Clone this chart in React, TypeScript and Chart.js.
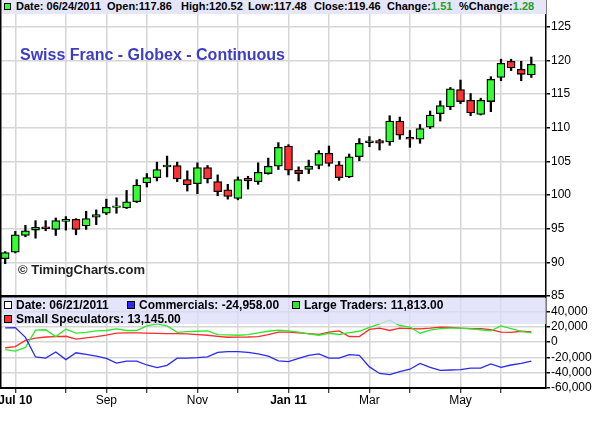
import React, { useEffect, useRef } from 'react';
import { Chart, registerables } from 'chart.js';

Chart.register(...registerables);

// Weekly bars (week ending Friday)
const weeks = [
  '2010-06-25', '2010-07-02', '2010-07-09', '2010-07-16', '2010-07-23', '2010-07-30',
  '2010-08-06', '2010-08-13', '2010-08-20', '2010-08-27',
  '2010-09-03', '2010-09-10', '2010-09-17', '2010-09-24',
  '2010-10-01', '2010-10-08', '2010-10-15', '2010-10-22', '2010-10-29',
  '2010-11-05', '2010-11-12', '2010-11-19', '2010-11-26',
  '2010-12-03', '2010-12-10', '2010-12-17', '2010-12-24', '2010-12-31',
  '2011-01-07', '2011-01-14', '2011-01-21', '2011-01-28',
  '2011-02-04', '2011-02-11', '2011-02-18', '2011-02-25',
  '2011-03-04', '2011-03-11', '2011-03-18', '2011-03-25',
  '2011-04-01', '2011-04-08', '2011-04-15', '2011-04-22', '2011-04-29',
  '2011-05-06', '2011-05-13', '2011-05-20', '2011-05-27',
  '2011-06-03', '2011-06-10', '2011-06-17', '2011-06-24',
];

const opens = [
  90.55, 91.5, 94.0, 94.8, 95.3, 94.9, 96.1, 96.4, 95.4, 96.7,
  97.3, 98.15, 98.1, 99.0, 101.8, 102.6, 104.2, 104.4, 102.3, 101.7,
  104.1, 102.0, 100.8, 99.5, 102.5, 102.0, 103.2, 104.3, 107.3, 103.7,
  103.8, 104.4, 106.2, 104.5, 102.7, 105.7, 107.8, 108.1, 107.9, 111.0,
  108.6, 108.3, 110.1, 112.1, 113.1, 115.7, 114.1, 112.0, 113.9, 117.5,
  119.9, 118.7, 117.86,
];
const highs = [
  91.6, 94.6, 95.5, 96.2, 96.2, 96.6, 96.8, 96.5, 97.6, 97.8,
  99.4, 99.6, 100.7, 102.3, 103.2, 104.9, 105.8, 104.9, 103.6, 104.8,
  104.4, 103.0, 101.6, 102.7, 102.8, 104.8, 105.5, 107.8, 107.5, 104.2,
  105.2, 106.6, 107.3, 105.0, 106.1, 108.4, 108.7, 108.3, 111.8, 111.6,
  109.6, 110.5, 112.5, 114.0, 116.0, 117.1, 115.1, 114.4, 117.6, 120.2,
  120.2, 119.9, 120.52,
];
const lows = [
  89.8, 91.4, 93.8, 93.6, 94.7, 94.0, 94.8, 94.1, 94.9, 95.6,
  97.1, 97.3, 98.0, 98.9, 101.2, 102.1, 102.7, 102.0, 100.6, 100.2,
  101.8, 99.9, 99.4, 99.3, 100.9, 101.6, 103.1, 103.8, 103.0, 102.1,
  103.2, 103.9, 104.3, 102.2, 102.6, 105.1, 107.2, 106.7, 107.4, 108.3,
  107.1, 107.7, 109.9, 111.0, 112.7, 113.6, 111.8, 111.9, 112.4, 117.0,
  118.5, 117.0, 117.48,
];
const closes = [
  91.45, 94.1, 94.7, 95.2, 95.0, 96.2, 96.4, 94.9, 96.5, 97.1,
  98.2, 98.4, 99.0, 101.5, 102.6, 103.8, 104.45, 102.4, 101.5, 104.1,
  102.4, 100.5, 99.8, 102.3, 102.1, 103.4, 104.3, 107.1, 103.7, 103.2,
  104.3, 106.2, 104.7, 102.6, 105.7, 107.7, 108.05, 107.7, 111.0, 108.9,
  108.3, 109.9, 111.9, 113.3, 115.8, 113.9, 112.2, 114.1, 117.2, 119.6,
  118.9, 117.95, 119.46,
];

// Commitment of Traders (net positions)
const cotDate = '06/21/2011';
const commercials = [
  18500, 18800, 6000, -19500, -21000, -13000, -23000, -14000, -16000, -18500,
  -21500, -27500, -25000, -25000, -30000, -33500, -30500, -21000, -21000, -20500,
  -19500, -13500, -12500, -12500, -13500, -15500, -18500, -24500, -25500, -21500,
  -17500, -15500, -21000, -21000, -16500, -17500, -32500, -41000, -42500, -38500,
  -35500, -28000, -33000, -37000, -36500, -36000, -34000, -34000, -28500, -33000,
  -30000, -28000, -24958,
];
const largeTraders = [
  -10000, -12000, -7000, 15500, 16000, 7000, 16800, 11500, 12500, 14500,
  15000, 17000, 15000, 15000, 21000, 23500, 21000, 12500, 13500, 14000,
  14500, 9600, 9200, 8800, 9600, 11900, 14000, 15500, 14500, 13000,
  10500, 8800, 11400, 9800, 12300, 14000, 19000, 23500, 28500, 21500,
  19500, 11500, 15500, 17500, 18000, 18000, 17000, 16000, 14500, 21000,
  17500, 14000, 11813,
];
const smallSpecs = [
  -7500, -6000, 2000, 5000, 6500, 7000, 7500, 3800, 5500, 7000,
  9000, 11500, 12000, 12000, 11500, 11200, 11000, 10800, 10500, 9600,
  8800, 7400, 6200, 6400, 6500, 7000, 9500, 13000, 13000, 12000,
  11000, 10000, 12800, 14500, 7200, 7000, 16500, 18000, 15000, 18000,
  17500, 17000, 18000, 19500, 19000, 18000, 17500, 17500, 16000, 13000,
  12500, 14000, 13145,
];

// Axis ticks
const monthLabels: Record<string, string> = {
  '2010-07': 'Jul 10', '2010-09': 'Sep', '2010-11': 'Nov',
  '2011-01': 'Jan 11', '2011-03': 'Mar', '2011-05': 'May',
};
const boldLabels = ['Jul 10', 'Jan 11'];
const priceTicks = [85, 90, 95, 100, 105, 110, 115, 120, 125];
const cotTicks = [-60000, -40000, -20000, 0, 20000, 40000];

const FONT = '"Liberation Sans", Arial, Helvetica, sans-serif';
const UP = '#33ff33';
const DOWN = '#ff3333';

const monthStarts = weeks
  .map((w, i) => ({ w, i }))
  .filter(({ w }) => Number(w.slice(8, 10)) <= 7)
  .map(({ i }) => i);
const tickLabelAt = (v: number) => {
  const w = weeks[v];
  if (!w) return '';
  return monthLabels[w.slice(0, 7)] || '';
};

const fmt2 = (v: number) =>
  v.toLocaleString('en-US', { minimumFractionDigits: 2, maximumFractionDigits: 2 });
const fmtDate = (w: string) => `${w.slice(5, 7)}/${w.slice(8, 10)}/${w.slice(0, 4)}`;

const framePlugin = {
  id: 'frame',
  afterDraw(chart: any) {
    const { ctx, chartArea } = chart;
    const y = chart.scales.y;
    ctx.save();
    ctx.fillStyle = '#000';
    ctx.fillRect(0, chartArea.top, 1.5, chartArea.bottom - chartArea.top);
    ctx.fillRect(chartArea.left, y.bottom - 1, chartArea.right - chartArea.left, 2.5);
    ctx.restore();
  },
};

export default function App() {
  const ref = useRef<HTMLCanvasElement | null>(null);

  useEffect(() => {
    if (!ref.current) return;
    const chart = new Chart(ref.current, {
      type: 'bar',
      data: {
        datasets: [
          {
            type: 'bar',
            label: 'body',
            data: weeks.map((_, i) => ({ x: i, y: [opens[i], closes[i]] })) as any,
            xAxisID: 'x',
            yAxisID: 'y',
            backgroundColor: weeks.map((_, i) => (closes[i] >= opens[i] ? UP : DOWN)),
            borderColor: '#000',
            borderWidth: 1.3,
            borderSkipped: false,
            barThickness: 8,
            grouped: false,
            order: 0,
          },
          {
            type: 'bar',
            label: 'wick',
            data: weeks.map((_, i) => ({ x: i, y: [lows[i], highs[i]] })) as any,
            xAxisID: 'x',
            yAxisID: 'y',
            backgroundColor: '#000',
            borderWidth: 0,
            barThickness: 1.6,
            grouped: false,
            order: 1,
          },
          {
            type: 'line',
            label: 'Commercials',
            data: commercials.map((v, i) => ({ x: i, y: v })) as any,
            xAxisID: 'x',
            yAxisID: 'y2',
            borderColor: '#2a2af0',
            borderWidth: 1.3,
            pointRadius: 0,
            tension: 0,
            order: 2,
          },
          {
            type: 'line',
            label: 'Large Traders',
            data: largeTraders.map((v, i) => ({ x: i, y: v })) as any,
            xAxisID: 'x',
            yAxisID: 'y2',
            borderColor: '#2ee82e',
            borderWidth: 1.3,
            pointRadius: 0,
            tension: 0,
            order: 3,
          },
          {
            type: 'line',
            label: 'Small Speculators',
            data: smallSpecs.map((v, i) => ({ x: i, y: v })) as any,
            xAxisID: 'x',
            yAxisID: 'y2',
            borderColor: '#ff2a2a',
            borderWidth: 1.3,
            pointRadius: 0,
            tension: 0,
            order: 4,
          },
        ],
      },
      options: {
        animation: false,
        responsive: false,
        events: [],
        layout: { padding: { left: 1, top: 0, right: 0, bottom: 0 } },
        plugins: { legend: { display: false }, tooltip: { enabled: false } },
        scales: {
          x: {
            type: 'linear',
            position: 'bottom',
            min: -0.413,
            max: 53.45,
            offset: false,
            grid: {
              offset: false,
              color: '#d6d6d6',
              lineWidth: 1.5,
              tickColor: '#000',
              tickLength: 5,
              tickWidth: 1,
            },
            border: { display: true, color: '#000', width: 2 },
            ticks: {
              autoSkip: false,
              maxRotation: 0,
              padding: 0,
              color: '#000',
              font: (ctx: any) => ({
                family: FONT,
                size: 12,
                weight: boldLabels.includes(tickLabelAt(ctx.tick ? ctx.tick.value : -1)) ? 'bold' : 'normal',
              }),
              callback: (v: any) => tickLabelAt(Number(v)),
            },
            afterBuildTicks: (scale: any) => {
              scale.ticks = monthStarts.map((i) => ({ value: i }));
            },
            afterFit: (scale: any) => {
              scale.height = 36;
              scale.paddingLeft = 0;
              scale.paddingRight = 0;
            },
          } as any,
          y: {
            type: 'linear',
            position: 'right',
            stack: 'panels',
            stackWeight: 296,
            min: 85,
            max: 129,
            beginAtZero: false,
            grid: { color: '#d6d6d6', lineWidth: 1.5, tickColor: '#000', tickLength: 4 },
            border: { display: true, color: '#000', width: 1.5 },
            ticks: { autoSkip: false, color: '#000', padding: 1, font: { family: FONT, size: 12 } },
            afterBuildTicks: (scale: any) => {
              scale.ticks = priceTicks.map((v) => ({ value: v }));
            },
            afterFit: (scale: any) => {
              scale.width = 46;
              scale.paddingTop = 0;
              scale.paddingBottom = 0;
            },
          } as any,
          y2: {
            type: 'linear',
            position: 'right',
            stack: 'panels',
            stackWeight: 92,
            min: -60000,
            max: 60000,
            beginAtZero: false,
            grid: { color: '#d6d6d6', lineWidth: 1.5, tickColor: '#000', tickLength: 4 },
            border: { display: true, color: '#000', width: 1.5 },
            ticks: {
              autoSkip: false,
              color: '#000',
              padding: 1,
              font: { family: FONT, size: 12 },
              callback: (v: any) => Number(v).toLocaleString('en-US'),
            },
            afterBuildTicks: (scale: any) => {
              scale.ticks = cotTicks.map((v) => ({ value: v }));
            },
            afterFit: (scale: any) => {
              scale.width = 46;
              scale.paddingTop = 0;
              scale.paddingBottom = 0;
            },
          } as any,
        },
      },
      plugins: [framePlugin],
    });
    return () => chart.destroy();
  }, []);

  const last = weeks.length - 1;
  const change = closes[last] - closes[last - 1];
  const pctChange = (change / closes[last - 1]) * 100;

  const hdr: React.CSSProperties = {
    position: 'absolute', top: 1, fontFamily: FONT, fontSize: 11, fontWeight: 'bold',
    lineHeight: '11px', color: '#000', whiteSpace: 'nowrap',
  };
  const leg: React.CSSProperties = {
    position: 'absolute', fontFamily: FONT, fontSize: 12, fontWeight: 'bold',
    lineHeight: '12px', color: '#000', whiteSpace: 'nowrap',
  };
  const sq = (left: number, top: number, bg: string, size = 8): React.CSSProperties => ({
    position: 'absolute', left, top, width: size - 2, height: size - 2, background: bg,
    border: '1px solid #000',
  });
  const green = '#1f9f1f';

  return (
    <div style={{ position: 'fixed', left: 0, top: 0, width: 592, height: 424, background: '#fff', overflow: 'hidden' }}>
      <canvas ref={ref} width={592} height={424} style={{ position: 'absolute', left: 0, top: 0, width: 592, height: 424 }} />

      {/* price header band */}
      <div style={{ position: 'absolute', left: 1.5, top: 0, width: 544.5, height: 14, background: '#e6e6fa' }} />
      <div style={sq(4, 3, UP, 7)} />
      <span style={{ ...hdr, left: 16 }}>Date: {fmtDate(weeks[last])}</span>
      <span style={{ ...hdr, left: 107 }}>Open:{opens[last].toFixed(2)}</span>
      <span style={{ ...hdr, left: 181 }}>High:{highs[last].toFixed(2)}</span>
      <span style={{ ...hdr, left: 248 }}>Low:{lows[last].toFixed(2)}</span>
      <span style={{ ...hdr, left: 314 }}>Close:{closes[last].toFixed(2)}</span>
      <span style={{ ...hdr, left: 387 }}>Change:<span style={{ color: green }}>{change.toFixed(2)}</span></span>
      <span style={{ ...hdr, left: 459 }}>%Change:<span style={{ color: green }}>{pctChange.toFixed(2)}</span></span>

      {/* title + watermark */}
      <div style={{ position: 'absolute', left: 20, top: 47, fontFamily: FONT, fontSize: 16, fontWeight: 'bold', lineHeight: '16px', color: '#3d3dc4', whiteSpace: 'nowrap' }}>
        Swiss Franc - Globex - Continuous
      </div>
      <div style={{ position: 'absolute', left: 18, top: 263, fontFamily: FONT, fontSize: 13, fontWeight: 'bold', lineHeight: '13px', color: '#222', whiteSpace: 'nowrap' }}>
        © TimingCharts.com
      </div>

      {/* COT legend band */}
      <div style={{ position: 'absolute', left: 1.5, top: 298, width: 544.5, height: 26, background: 'rgba(219,219,248,0.75)' }} />
      <div style={sq(4, 301, '#fff')} />
      <span style={{ ...leg, left: 16, top: 299 }}>Date: {cotDate}</span>
      <div style={sq(127, 301, '#2a2af0')} />
      <span style={{ ...leg, left: 139, top: 299 }}>Commercials: {fmt2(commercials[last])}</span>
      <div style={sq(292, 301, '#2ee82e')} />
      <span style={{ ...leg, left: 304, top: 299 }}>Large Traders: {fmt2(largeTraders[last])}</span>
      <div style={sq(4, 315, '#ff2a2a')} />
      <span style={{ ...leg, left: 16, top: 313 }}>Small Speculators: {fmt2(smallSpecs[last])}</span>
    </div>
  );
}
